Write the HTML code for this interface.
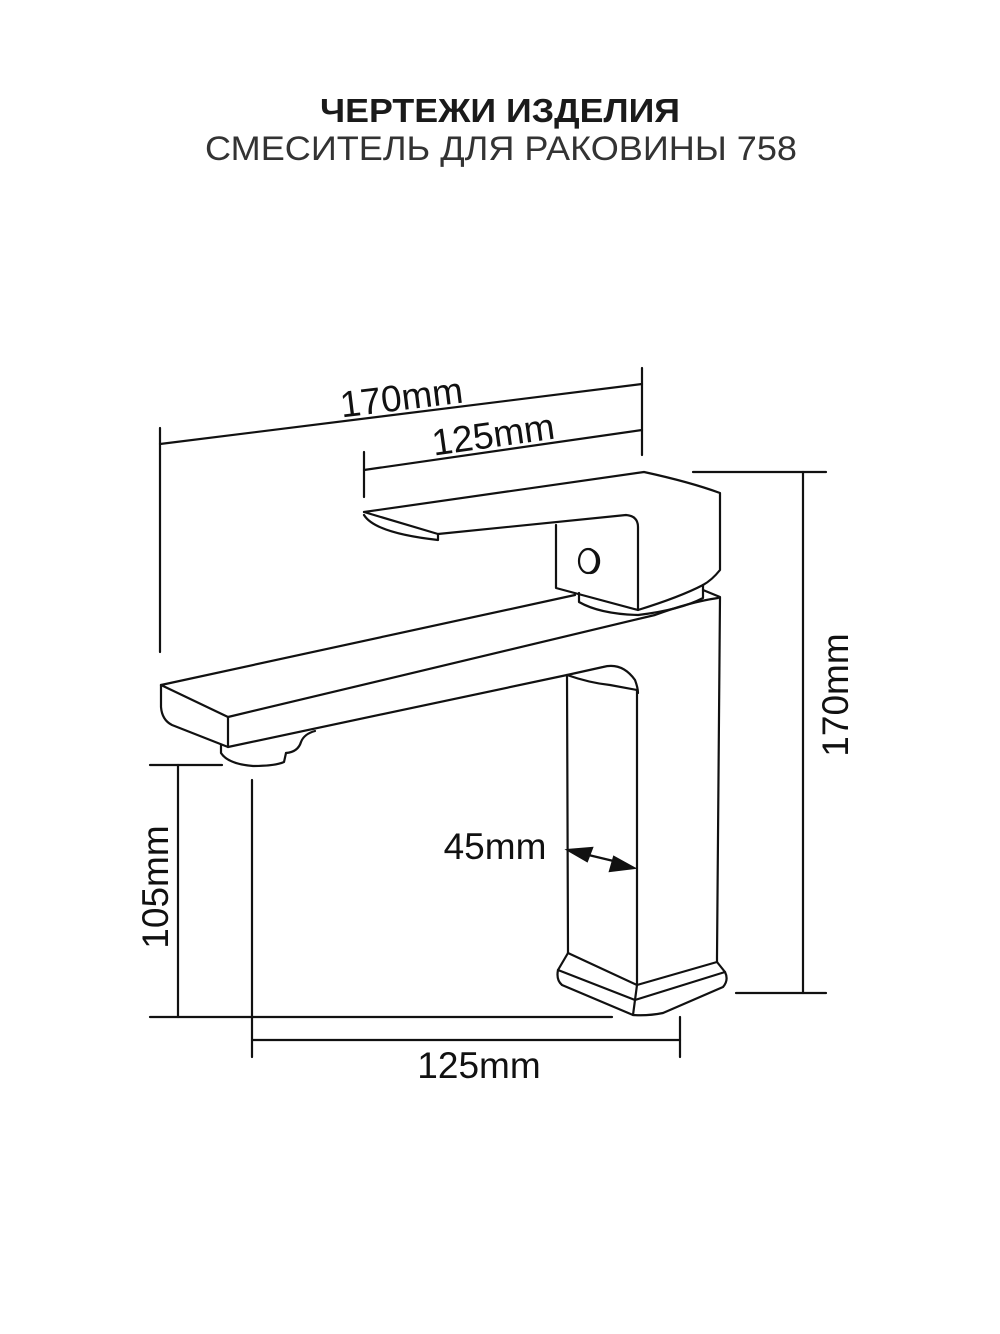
<!DOCTYPE html>
<html><head><meta charset="utf-8"><style>html,body{margin:0;padding:0;background:#fff}svg{display:block}</style></head>
<body>
<svg width="1000" height="1334" viewBox="0 0 1000 1334" xmlns="http://www.w3.org/2000/svg">
<g font-family="Liberation Sans, sans-serif" fill="#1a1a1a">
<text x="500" y="122" font-size="33" font-weight="bold" text-anchor="middle" textLength="360" lengthAdjust="spacingAndGlyphs">ЧЕРТЕЖИ ИЗДЕЛИЯ</text>
<text x="501" y="160" font-size="34" text-anchor="middle" textLength="592" lengthAdjust="spacingAndGlyphs" fill="#333">СМЕСИТЕЛЬ ДЛЯ РАКОВИНЫ 758</text>
</g>
<g fill="none" stroke="#111" stroke-width="2.2" stroke-linejoin="round" stroke-linecap="round">
<!-- dimension lines -->
<line x1="160" y1="444" x2="642" y2="384"/>
<line x1="160" y1="428" x2="160" y2="652"/>
<line x1="642" y1="368" x2="642" y2="455"/>
<line x1="364" y1="470" x2="642" y2="430"/>
<line x1="364" y1="452" x2="364" y2="497"/>
<line x1="693" y1="472" x2="826" y2="472"/>
<line x1="736" y1="993" x2="826" y2="993"/>
<line x1="803" y1="472" x2="803" y2="993"/>
<line x1="150" y1="765" x2="222" y2="765"/>
<line x1="150" y1="1017" x2="612" y2="1017"/>
<line x1="178" y1="765" x2="178" y2="1017"/>
<line x1="252" y1="780" x2="252" y2="1057"/>
<line x1="680" y1="1017" x2="680" y2="1057"/>
<line x1="252" y1="1040" x2="680" y2="1040"/>
<!-- lever -->
<path d="M364,512 L644,472 Q690,482 720,493 L720,570 Q712,580 703,585"/>
<path d="M364,512 L438,534 L626,515 Q638,516 638,527 L638,610"/>
<path d="M364,515 Q375,533 438,540 L438,534"/>
<path d="M556,525 L556,588 L638,610 Q680,597 703,585"/>
<path d="M579,593 L579,602 Q600,614 638,615 Q680,610 703,598 L703,585"/>
<ellipse cx="588" cy="561" rx="9" ry="12"/>
<path d="M590,549 Q600,553 599,563 Q597,573 590,573"/>
<!-- body & spout -->
<path d="M703,590 L720,597 L717,957 L717,962"/>
<path d="M161,685 L575,595"/>
<path d="M161,685 L228,717 L655,615 Q690,602 718,598"/>
<path d="M161,685 L161,707 Q162,720 172,725 L228,747 L228,717"/>
<path d="M228,747 L567,675 L603,667 Q622,662 635,680 Q638,688 638,693"/>
<path d="M567,675 Q590,683 610,685 L637,690 L637,985"/>
<path d="M567,675 L568,953"/>
<path d="M568,953 L558,970 Q556,980 562,985 L633,1015 Q648,1016 663,1013 L723,987 Q729,980 725,972 L717,962"/>
<path d="M568,953 L637,985 L717,962"/>
<path d="M558,970 L635,1000 L725,972"/>
<path d="M637,985 L633,1015"/>
<!-- aerator -->
<path d="M221,745 L221,753 Q228,764 253,766 Q275,766 284,762 L286,753"/>
<path d="M286,753 Q298,752 301,742 Q304,734 315,731"/>
</g>
<!-- 45mm arrow -->
<g stroke="#111" stroke-width="2.2" fill="#111">
<line x1="576" y1="852" x2="626" y2="864"/>
<polygon points="568,850 592,848 587,861"/>
<polygon points="634,868 610,871 614,857"/>
</g>
<g font-family="Liberation Sans, sans-serif" font-size="37" fill="#111">
<text x="403" y="410" text-anchor="middle" transform="rotate(-7 403 410)">170mm</text>
<text x="495" y="447" text-anchor="middle" transform="rotate(-8 495 447)">125mm</text>
<text x="479" y="1078" text-anchor="middle">125mm</text>
<text x="495" y="859" text-anchor="middle">45mm</text>
<text x="848" y="695" text-anchor="middle" transform="rotate(-90 848 695)">170mm</text>
<text x="168" y="887" text-anchor="middle" transform="rotate(-90 168 887)">105mm</text>
</g>
</svg>
</body></html>
